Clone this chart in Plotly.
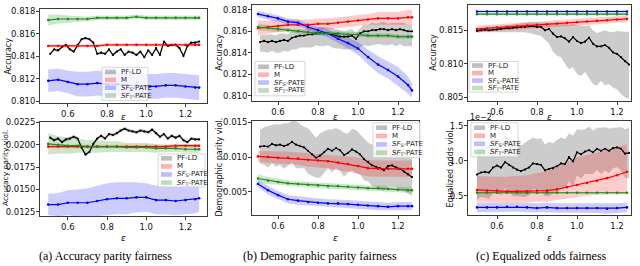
import plotly.graph_objects as go

W, H = 640, 266

# ---------------- data ----------------
EPS_FINE_AB = [0.51, 0.53, 0.55, 0.57, 0.59, 0.61, 0.63, 0.65, 0.67, 0.69, 0.71, 0.73, 0.75,
               0.77, 0.79, 0.81, 0.83, 0.85, 0.87, 0.89, 0.91, 0.93, 0.95, 0.97, 0.99, 1.01,
               1.03, 1.05, 1.07, 1.09, 1.11, 1.13, 1.15, 1.17, 1.19, 1.21, 1.23, 1.25, 1.27]
EPS_FINE_C = [0.50, 0.52, 0.54, 0.56, 0.58, 0.60, 0.62, 0.64, 0.66, 0.68, 0.70, 0.72, 0.74,
              0.76, 0.78, 0.80, 0.82, 0.84, 0.86, 0.88, 0.90, 0.92, 0.94, 0.96, 0.98, 1.00,
              1.02, 1.04, 1.06, 1.08, 1.10, 1.12, 1.14, 1.16, 1.18, 1.20, 1.22, 1.24, 1.26]
EPS_COARSE_AB = [0.50, 0.55, 0.60, 0.65, 0.70, 0.75, 0.80, 0.85, 0.90, 0.95, 1.00, 1.05,
                 1.10, 1.15, 1.20, 1.25, 1.27]
EPS_COARSE_C = [0.50, 0.55, 0.60, 0.65, 0.70, 0.75, 0.80, 0.85, 0.90, 0.95, 1.00, 1.05,
                1.10, 1.15, 1.20, 1.25]

# (a) accuracy parity -- accuracy
a_acc_pfld = [0.8142, 0.8146, 0.8145, 0.8148, 0.8150, 0.8146, 0.8144, 0.8150, 0.8155, 0.8156,
              0.8155, 0.8152, 0.8142, 0.8143, 0.8142, 0.8146, 0.8141, 0.8144, 0.8146, 0.8141,
              0.8144, 0.8143, 0.8141, 0.8144, 0.8139, 0.8145, 0.8141, 0.8147, 0.8141, 0.8153,
              0.8149, 0.8150, 0.8150, 0.8147, 0.8140, 0.8149, 0.8152, 0.8152, 0.8153]
a_acc_pfld_err = [0.00012, 0.00012, 0.00011, 0.00012, 0.00013, 0.00012, 0.00012, 0.00013, 0.00014,
                  0.00013, 0.00012, 0.00013, 0.00012, 0.00012, 0.00011, 0.00012, 0.00012, 0.00013,
                  0.00012, 0.00012, 0.00011, 0.00012, 0.00012, 0.00013, 0.00012, 0.00012, 0.00012,
                  0.00013, 0.00012, 0.00014, 0.00012, 0.00012, 0.00013, 0.00012, 0.00013, 0.00012,
                  0.00012, 0.00012, 0.00012]
a_acc_m = [0.8149, 0.8149, 0.8149, 0.8149, 0.8149, 0.8149, 0.8150, 0.8150, 0.8150, 0.8150,
           0.8150, 0.8150, 0.8150, 0.8150, 0.8150, 0.8150, 0.8150]
a_acc_m_err = [0.00012, 0.00012, 0.00012, 0.00012, 0.00012, 0.00012, 0.00012, 0.00012, 0.00012,
               0.00012, 0.00012, 0.00012, 0.00012, 0.00012, 0.00012, 0.00012, 0.00012]
a_acc_sfs = [0.8118, 0.8119, 0.8117, 0.8115, 0.8115, 0.8116, 0.8115, 0.8115, 0.8114, 0.8114,
             0.8113, 0.8113, 0.8114, 0.8114, 0.8113, 0.8112, 0.8112]
a_acc_sfs_err = [0.0010, 0.0010, 0.0010, 0.0011, 0.0011, 0.0011, 0.0011, 0.0011, 0.0011, 0.0011,
                 0.0011, 0.0011, 0.0011, 0.0011, 0.0011, 0.0011, 0.0011]
a_acc_sft = [0.8172, 0.8173, 0.8173, 0.8173, 0.8173, 0.8174, 0.8174, 0.8174, 0.8174, 0.8175,
             0.8174, 0.8174, 0.8174, 0.8174, 0.8174, 0.8174, 0.8174]
a_acc_sft_err = [0.0005, 0.0004, 0.0003, 0.00025, 0.0002, 0.0002, 0.0002, 0.0002, 0.0002, 0.0002,
                 0.0002, 0.0002, 0.0002, 0.0002, 0.0002, 0.0002, 0.0002]

# (a) accuracy parity -- violation
a_vio_pfld = [0.0208, 0.0205, 0.0207, 0.0203, 0.0206, 0.0207, 0.0209, 0.0207, 0.0197, 0.0189,
              0.0192, 0.0201, 0.0207, 0.0210, 0.0207, 0.0212, 0.0211, 0.0213, 0.0216, 0.0218,
              0.0216, 0.0215, 0.0214, 0.0216, 0.0215, 0.0214, 0.0217, 0.0213, 0.0209, 0.0212,
              0.0207, 0.0210, 0.0208, 0.0210, 0.0205, 0.0203, 0.0207, 0.0206, 0.0206]
a_vio_pfld_err = [0.0002, 0.0002, 0.0002, 0.0002, 0.0002, 0.0002, 0.0002, 0.0002, 0.0002, 0.0002,
                  0.0002, 0.0002, 0.0002, 0.0002, 0.0002, 0.0002, 0.0002, 0.0002, 0.0002, 0.0002,
                  0.0002, 0.0002, 0.0002, 0.0002, 0.0002, 0.0002, 0.0002, 0.0002, 0.0002, 0.0002,
                  0.0002, 0.0002, 0.0002, 0.0002, 0.0002, 0.0002, 0.0002, 0.0002, 0.0002]
a_vio_m = [0.0198, 0.0198, 0.0198, 0.0198, 0.0198, 0.0198, 0.0198, 0.0198, 0.0198, 0.0198,
           0.0198, 0.0198, 0.0198, 0.0199, 0.0199, 0.0199, 0.0199]
a_vio_m_err = [0.0002, 0.0002, 0.0002, 0.0002, 0.0002, 0.0002, 0.0002, 0.0002, 0.0002, 0.0002,
               0.0002, 0.0002, 0.0002, 0.0002, 0.0002, 0.0002, 0.0002]
a_vio_sfs = [0.0133, 0.0133, 0.0135, 0.0135, 0.0135, 0.0137, 0.0139, 0.0140, 0.0140, 0.0141,
             0.0141, 0.0138, 0.0138, 0.0137, 0.0138, 0.0139, 0.0140]
a_vio_sfs_err = [0.0012, 0.0013, 0.0014, 0.0015, 0.0016, 0.0017, 0.0018, 0.0018, 0.0018, 0.0017,
                 0.0016, 0.0016, 0.0016, 0.0016, 0.0016, 0.0016, 0.0015]
a_vio_sft = [0.0201, 0.0200, 0.0199, 0.0199, 0.0198, 0.0198, 0.0198, 0.0198, 0.0197, 0.0197,
             0.0197, 0.0196, 0.0196, 0.0196, 0.0195, 0.0195, 0.0195]
a_vio_sft_err = [0.0012, 0.0010, 0.0009, 0.0008, 0.0007, 0.0007, 0.0006, 0.0006, 0.0005, 0.0005,
                 0.0005, 0.0005, 0.0004, 0.0004, 0.0004, 0.0004, 0.0004]

# (b) demographic parity -- accuracy
b_acc_pfld = [0.8150, 0.8151, 0.8150, 0.8151, 0.8150, 0.8151, 0.8152, 0.8151, 0.8154, 0.8155,
              0.8156, 0.8156, 0.8157, 0.8157, 0.8158, 0.8158, 0.8158, 0.8158, 0.8157, 0.8156,
              0.8155, 0.8155, 0.8155, 0.8156, 0.8153, 0.8158, 0.8160, 0.8160, 0.8161, 0.8161,
              0.8162, 0.8162, 0.8161, 0.8162, 0.8161, 0.8162, 0.8161, 0.8160, 0.8160]
b_acc_pfld_err_hi = [0.0006, 0.0006, 0.0007, 0.0006, 0.0006, 0.0007, 0.0006, 0.0006, 0.0007, 0.0006,
                     0.0006, 0.0005, 0.0006, 0.0006, 0.0005, 0.0006, 0.0006, 0.0005, 0.0006, 0.0006,
                     0.0006, 0.0005, 0.0006, 0.0006, 0.0006, 0.0005, 0.0006, 0.0006, 0.0007, 0.0006,
                     0.0006, 0.0007, 0.0006, 0.0006, 0.0007, 0.0006, 0.0007, 0.0006, 0.0006]
b_acc_pfld_err_lo = [0.0009, 0.0010, 0.0010, 0.0009, 0.0010, 0.0011, 0.0010, 0.0010, 0.0011, 0.0012,
                     0.0011, 0.0011, 0.0012, 0.0012, 0.0011, 0.0012, 0.0012, 0.0011, 0.0012, 0.0012,
                     0.0011, 0.0012, 0.0012, 0.0012, 0.0011, 0.0013, 0.0013, 0.0014, 0.0014, 0.0013,
                     0.0014, 0.0015, 0.0014, 0.0014, 0.0015, 0.0014, 0.0015, 0.0014, 0.0014]
b_acc_m = [0.8163, 0.8164, 0.8165, 0.8166, 0.8166, 0.8166, 0.8167, 0.8167, 0.8168, 0.8169,
           0.8170, 0.8171, 0.8172, 0.8172, 0.8172, 0.8173, 0.8173]
b_acc_m_err = [0.0007, 0.0006, 0.0006, 0.0005, 0.0005, 0.0005, 0.0005, 0.0005, 0.0005, 0.0005,
               0.0005, 0.0005, 0.0006, 0.0006, 0.0006, 0.0007, 0.0007]
b_acc_sfs = [0.8176, 0.8174, 0.8172, 0.8169, 0.8168, 0.8164, 0.8161, 0.8158, 0.8153, 0.8149,
             0.8144, 0.8136, 0.8129, 0.8124, 0.8118, 0.8110, 0.8105]
b_acc_sfs_err = [0.0003, 0.0003, 0.0003, 0.0003, 0.0003, 0.0003, 0.0003, 0.0004, 0.0004, 0.0005,
                 0.0006, 0.0007, 0.0008, 0.0008, 0.0009, 0.0008, 0.0007]
b_acc_sft = [0.8164, 0.8163, 0.8162, 0.8161, 0.8160, 0.8159, 0.8158, 0.8158, 0.8158, 0.8157,
             0.8157, 0.8156, 0.8156, 0.8156, 0.8155, 0.8155, 0.8155]
b_acc_sft_err = [0.0003, 0.0003, 0.0003, 0.0002, 0.0002, 0.0002, 0.0002, 0.0002, 0.0002, 0.0002,
                 0.0002, 0.0002, 0.0002, 0.0002, 0.0002, 0.0002, 0.0002]

# (b) demographic parity -- violation
b_vio_pfld = [0.0115, 0.0116, 0.0115, 0.0119, 0.0117, 0.0118, 0.0116, 0.0118, 0.0122, 0.0118,
              0.0116, 0.0114, 0.0109, 0.0104, 0.0099, 0.0102, 0.0107, 0.0112, 0.0109, 0.0113,
              0.0110, 0.0103, 0.0106, 0.0111, 0.0108, 0.0104, 0.0097, 0.0093, 0.0088, 0.0086,
              0.0084, 0.0081, 0.0087, 0.0088, 0.0085, 0.0083, 0.0079, 0.0075, 0.0071]
b_vio_pfld_err = [0.0024, 0.0027, 0.0030, 0.0028, 0.0031, 0.0029, 0.0033, 0.0031, 0.0030, 0.0034,
                  0.0032, 0.0030, 0.0033, 0.0031, 0.0029, 0.0032, 0.0030, 0.0028, 0.0031, 0.0029,
                  0.0030, 0.0032, 0.0028, 0.0030, 0.0031, 0.0029, 0.0031, 0.0028, 0.0030, 0.0029,
                  0.0031, 0.0030, 0.0029, 0.0031, 0.0028, 0.0030, 0.0029, 0.0028, 0.0027]
b_vio_m = [0.0101, 0.0100, 0.0099, 0.0099, 0.0098, 0.0096, 0.0095, 0.0094, 0.0092, 0.0090,
           0.0087, 0.0084, 0.0083, 0.0083, 0.0083, 0.0083, 0.0083]
b_vio_m_err = [0.0008, 0.0008, 0.0009, 0.0009, 0.0009, 0.0010, 0.0010, 0.0010, 0.0011, 0.0011,
               0.0012, 0.0012, 0.0012, 0.0012, 0.0012, 0.0012, 0.0012]
b_vio_sfs = [0.0061, 0.0052, 0.0045, 0.0039, 0.0037, 0.0035, 0.0034, 0.0033, 0.0033, 0.0032,
             0.0031, 0.0030, 0.0029, 0.0028, 0.0029, 0.0029, 0.0029]
b_vio_sfs_err = [0.0005, 0.0006, 0.0006, 0.0006, 0.0006, 0.0006, 0.0006, 0.0006, 0.0006, 0.0006,
                 0.0006, 0.0006, 0.0006, 0.0006, 0.0006, 0.0006, 0.0006]
b_vio_sft = [0.0069, 0.0066, 0.0064, 0.0062, 0.0061, 0.0060, 0.0059, 0.0058, 0.0058, 0.0057,
             0.0056, 0.0055, 0.0055, 0.0054, 0.0053, 0.0052, 0.0052]
b_vio_sft_err = [0.0006, 0.0005, 0.0005, 0.0004, 0.0004, 0.0004, 0.0004, 0.0004, 0.0004, 0.0004,
                 0.0004, 0.0004, 0.0004, 0.0004, 0.0004, 0.0004, 0.0004]

# (c) equalized odds -- accuracy
c_acc_pfld = [0.8149, 0.8150, 0.8151, 0.8150, 0.8151, 0.8151, 0.8152, 0.8153, 0.8153, 0.8154,
              0.8154, 0.8155, 0.8155, 0.8156, 0.8156, 0.8155, 0.8155, 0.8150, 0.8152, 0.8145,
              0.8140, 0.8141, 0.8138, 0.8133, 0.8140, 0.8134, 0.8131, 0.8133, 0.8139, 0.8130,
              0.8126, 0.8126, 0.8128, 0.8124, 0.8117, 0.8115, 0.8110, 0.8104, 0.8099]
c_acc_pfld_hi = [0.8152, 0.8153, 0.8154, 0.8154, 0.8155, 0.8156, 0.8157, 0.8158, 0.8158, 0.8159,
                 0.8160, 0.8160, 0.8161, 0.8162, 0.8162, 0.8162, 0.8162, 0.8161, 0.8162, 0.8161,
                 0.8160, 0.8160, 0.8160, 0.8158, 0.8160, 0.8158, 0.8157, 0.8156, 0.8158, 0.8150,
                 0.8146, 0.8148, 0.8150, 0.8148, 0.8147, 0.8149, 0.8148, 0.8148, 0.8148]
c_acc_pfld_lo = [0.8146, 0.8147, 0.8148, 0.8147, 0.8147, 0.8147, 0.8147, 0.8147, 0.8147, 0.8148,
                 0.8147, 0.8147, 0.8147, 0.8146, 0.8145, 0.8143, 0.8142, 0.8136, 0.8130, 0.8118,
                 0.8112, 0.8110, 0.8100, 0.8092, 0.8095, 0.8085, 0.8082, 0.8088, 0.8080, 0.8070,
                 0.8068, 0.8075, 0.8068, 0.8070, 0.8065, 0.8062, 0.8055, 0.8050, 0.8048]
c_acc_m = [0.8152, 0.8153, 0.8154, 0.8155, 0.8156, 0.8157, 0.8158, 0.8159, 0.8160, 0.8161,
           0.8162, 0.8163, 0.8164, 0.8165, 0.8166, 0.8167]
c_acc_m_err = [0.0005, 0.0005, 0.0005, 0.0005, 0.0005, 0.0005, 0.0005, 0.0005, 0.0005, 0.0005,
               0.0005, 0.0005, 0.0005, 0.0005, 0.0005, 0.0005]
c_acc_sfs = [0.8178, 0.8178, 0.8178, 0.8178, 0.8178, 0.8178, 0.8178, 0.8178, 0.8178, 0.8178,
             0.8178, 0.8178, 0.8178, 0.8178, 0.8178, 0.8178]
c_acc_sfs_err = [0.0002, 0.0002, 0.0002, 0.0002, 0.0002, 0.0002, 0.0002, 0.0002, 0.0002, 0.0002,
                 0.0002, 0.0002, 0.0002, 0.0002, 0.0002, 0.0002]
c_acc_sft = [0.8174, 0.8174, 0.8174, 0.8174, 0.8174, 0.8174, 0.8174, 0.8174, 0.8174, 0.8174,
             0.8174, 0.8174, 0.8174, 0.8174, 0.8174, 0.8174]
c_acc_sft_err = [0.00015, 0.00015, 0.00015, 0.00015, 0.00015, 0.00015, 0.00015, 0.00015,
                 0.00015, 0.00015, 0.00015, 0.00015, 0.00015, 0.00015, 0.00015, 0.00015]

# (c) equalized odds -- violation
c_vio_pfld = [0.0080, 0.0083, 0.0084, 0.0083, 0.0090, 0.0093, 0.0090, 0.0098, 0.0094, 0.0090,
              0.0087, 0.0085, 0.0087, 0.0090, 0.0096, 0.0095, 0.0094, 0.0086, 0.0088, 0.0089,
              0.0092, 0.0096, 0.0095, 0.0105, 0.0099, 0.0112, 0.0109, 0.0113, 0.0115, 0.0112,
              0.0117, 0.0114, 0.0117, 0.0114, 0.0118, 0.0119, 0.0117, 0.0110, 0.0111]
c_vio_pfld_err = [0.0036, 0.0035, 0.0037, 0.0038, 0.0036, 0.0038, 0.0040, 0.0037, 0.0039, 0.0041,
                  0.0038, 0.0036, 0.0039, 0.0040, 0.0037, 0.0036, 0.0038, 0.0037, 0.0039, 0.0036,
                  0.0038, 0.0037, 0.0036, 0.0034, 0.0037, 0.0033, 0.0035, 0.0032, 0.0034, 0.0031,
                  0.0030, 0.0033, 0.0031, 0.0032, 0.0029, 0.0028, 0.0031, 0.0035, 0.0036]
c_vio_m = [0.0058, 0.0057, 0.0057, 0.0056, 0.0056, 0.0056, 0.0057, 0.0057, 0.0059, 0.0062,
           0.0065, 0.0068, 0.0071, 0.0075, 0.0079, 0.0084]
c_vio_m_err_lo = [0.0017, 0.0017, 0.0017, 0.0016, 0.0016, 0.0016, 0.0016, 0.0016, 0.0016, 0.0017,
                  0.0017, 0.0018, 0.0020, 0.0023, 0.0027, 0.0032]
c_vio_m_err_hi = [0.0020, 0.0020, 0.0020, 0.0021, 0.0022, 0.0023, 0.0025, 0.0028, 0.0032, 0.0036,
                  0.0040, 0.0040, 0.0040, 0.0040, 0.0040, 0.0040]
c_vio_sfs = [0.0033, 0.0033, 0.0033, 0.0034, 0.0034, 0.0033, 0.0032, 0.0033, 0.0032, 0.0032,
             0.0032, 0.0032, 0.0032, 0.0031, 0.0032, 0.0033]
c_vio_sfs_err = [0.0007, 0.0007, 0.0007, 0.0007, 0.0007, 0.0007, 0.0007, 0.0007, 0.0007, 0.0007,
                 0.0007, 0.0007, 0.0007, 0.0007, 0.0007, 0.0007]
c_vio_sft = [0.0054, 0.0054, 0.0054, 0.0054, 0.0054, 0.0054, 0.0054, 0.0054, 0.0054, 0.0054,
             0.0054, 0.0054, 0.0054, 0.0054, 0.0054, 0.0054]
c_vio_sft_err = [0.0001, 0.0001, 0.0001, 0.0001, 0.0001, 0.0001, 0.0001, 0.0001, 0.0001, 0.0001,
                 0.0001, 0.0001, 0.0001, 0.0001, 0.0001, 0.0001]

X_TICKS = [0.6, 0.8, 1.0, 1.2]
LEGEND_LABELS = ["PF-LD", "M", "<i>SF</i><sub>S</sub>-PATE", "<i>SF</i><sub>T</sub>-PATE"]
CAPTIONS = ["(a) Accuracy parity fairness", "(b) Demographic parity fairness",
            "(c) Equalized odds fairness"]

# ---------------- style ----------------
LINE_COLORS = ["#000000", "#ff0000", "#0000ff", "#1a8c1a"]
BAND_COLORS = ["rgba(0,0,0,0.2)", "rgba(255,0,0,0.2)", "rgba(0,0,255,0.2)", "rgba(0,128,0,0.2)"]
LEG_COLORS = ["rgba(0,0,0,0.25)", "rgba(255,0,0,0.3)", "rgba(0,0,255,0.25)", "rgba(0,128,0,0.25)"]


def px(x):
    return x / W


def py(y):
    return 1 - y / H


fig = go.Figure()


def ax_names(k):
    return ("x", "y") if k == 1 else (f"x{k}", f"y{k}")


def add_band(k, x, lo, hi, color):
    xa, ya = ax_names(k)
    n = min(len(x), len(lo), len(hi))
    xs = list(x[:n]) + list(x[:n])[::-1]
    ys = list(hi[:n]) + list(lo[:n])[::-1]
    fig.add_trace(go.Scatter(x=xs, y=ys, mode="lines", fill="toself", fillcolor=color,
                             line=dict(width=0), hoverinfo="skip", showlegend=False,
                             xaxis=xa, yaxis=ya))


def add_line(k, x, y, color, msize=2.6):
    xa, ya = ax_names(k)
    n = min(len(x), len(y))
    fig.add_trace(go.Scatter(x=x[:n], y=y[:n], mode="lines+markers",
                             line=dict(color=color, width=1.2),
                             marker=dict(size=msize, color=color), showlegend=False,
                             xaxis=xa, yaxis=ya))


def sym(y, e):
    return [a - b for a, b in zip(y, e)], [a + b for a, b in zip(y, e)]


def asym(y, elo, ehi):
    return [a - b for a, b in zip(y, elo)], [a + b for a, b in zip(y, ehi)]


# series per panel: (x, y, lo, hi)
PANEL_SERIES = {
    1: [(EPS_FINE_AB, a_acc_pfld, *sym(a_acc_pfld, a_acc_pfld_err)),
        (EPS_COARSE_AB, a_acc_m, *sym(a_acc_m, a_acc_m_err)),
        (EPS_COARSE_AB, a_acc_sfs, *sym(a_acc_sfs, a_acc_sfs_err)),
        (EPS_COARSE_AB, a_acc_sft, *sym(a_acc_sft, a_acc_sft_err))],
    2: [(EPS_FINE_AB, b_acc_pfld, *asym(b_acc_pfld, b_acc_pfld_err_lo, b_acc_pfld_err_hi)),
        (EPS_COARSE_AB, b_acc_m, *sym(b_acc_m, b_acc_m_err)),
        (EPS_COARSE_AB, b_acc_sfs, *sym(b_acc_sfs, b_acc_sfs_err)),
        (EPS_COARSE_AB, b_acc_sft, *sym(b_acc_sft, b_acc_sft_err))],
    3: [(EPS_FINE_C, c_acc_pfld, c_acc_pfld_lo, c_acc_pfld_hi),
        (EPS_COARSE_C, c_acc_m, *sym(c_acc_m, c_acc_m_err)),
        (EPS_COARSE_C, c_acc_sfs, *sym(c_acc_sfs, c_acc_sfs_err)),
        (EPS_COARSE_C, c_acc_sft, *sym(c_acc_sft, c_acc_sft_err))],
    4: [(EPS_FINE_AB, a_vio_pfld, *sym(a_vio_pfld, a_vio_pfld_err)),
        (EPS_COARSE_AB, a_vio_m, *sym(a_vio_m, a_vio_m_err)),
        (EPS_COARSE_AB, a_vio_sfs, *sym(a_vio_sfs, a_vio_sfs_err)),
        (EPS_COARSE_AB, a_vio_sft, *sym(a_vio_sft, a_vio_sft_err))],
    5: [(EPS_FINE_AB, b_vio_pfld, *sym(b_vio_pfld, b_vio_pfld_err)),
        (EPS_COARSE_AB, b_vio_m, *sym(b_vio_m, b_vio_m_err)),
        (EPS_COARSE_AB, b_vio_sfs, *sym(b_vio_sfs, b_vio_sfs_err)),
        (EPS_COARSE_AB, b_vio_sft, *sym(b_vio_sft, b_vio_sft_err))],
    6: [(EPS_FINE_C, c_vio_pfld, *sym(c_vio_pfld, c_vio_pfld_err)),
        (EPS_COARSE_C, c_vio_m, *asym(c_vio_m, c_vio_m_err_lo, c_vio_m_err_hi)),
        (EPS_COARSE_C, c_vio_sfs, *sym(c_vio_sfs, c_vio_sfs_err)),
        (EPS_COARSE_C, c_vio_sft, *sym(c_vio_sft, c_vio_sft_err))],
}

for k, series in PANEL_SERIES.items():
    for i, (x, y, lo, hi) in enumerate(series):
        add_band(k, x, lo, hi, BAND_COLORS[i])
    for i, (x, y, lo, hi) in enumerate(series):
        add_line(k, x, y, LINE_COLORS[i], 2.2 if i == 0 else 2.6)

# ---------------- axes ----------------
PANELS = {
    1: dict(xd=(40, 207), yd=(5, 102), xr=(0.458, 1.31), yr=(0.8098, 0.8182),
            yt=[0.810, 0.812, 0.814, 0.816, 0.818], fmt=".3f"),
    2: dict(xd=(252, 419), yd=(1, 100), xr=(0.47, 1.305), yr=(0.80948, 0.81845),
            yt=[0.810, 0.812, 0.814, 0.816, 0.818], fmt=".3f"),
    3: dict(xd=(468, 631), yd=(1, 100), xr=(0.455, 1.27), yr=(0.80442, 0.81877),
            yt=[0.805, 0.810, 0.815], fmt=".3f"),
    4: dict(xd=(40, 207), yd=(121, 218), xr=(0.458, 1.31), yr=(0.011987, 0.022576),
            yt=[0.0125, 0.0150, 0.0175, 0.0200, 0.0225], fmt=".4f"),
    5: dict(xd=(252, 419), yd=(120, 217), xr=(0.47, 1.305), yr=(0.00158, 0.01524),
            yt=[0.005, 0.010, 0.015], fmt=".3f"),
    6: dict(xd=(468, 631), yd=(120, 217), xr=(0.455, 1.27), yr=(0.00217, 0.0157),
            yt=[0.005, 0.010, 0.015], fmt=None, ytext=["0.5", "1.0", "1.5"]),
}

TICKFONT = dict(family="DejaVu Sans", size=8.5, color="#111111")
layout = {}
for k, p in PANELS.items():
    sfx = "" if k == 1 else str(k)
    common = dict(showline=True, mirror=True, linecolor="#3a3a3a", linewidth=0.8,
                  ticks="outside", ticklen=3, tickwidth=0.8, tickcolor="#3a3a3a",
                  showgrid=False, zeroline=False, tickfont=TICKFONT)
    xa = dict(common, domain=[px(p["xd"][0]), px(p["xd"][1])], range=list(p["xr"]),
              tickvals=X_TICKS, tickformat=".1f", anchor="y" + sfx)
    ya = dict(common, domain=[py(p["yd"][1]), py(p["yd"][0])], range=list(p["yr"]),
              tickvals=p["yt"], anchor="x" + sfx, ticklabelstandoff=-1)
    if p.get("fmt"):
        ya["tickformat"] = p["fmt"]
    else:
        ya["ticktext"] = p["ytext"]
    layout["xaxis" + sfx] = xa
    layout["yaxis" + sfx] = ya

fig.update_layout(**layout)

# ---------------- text ----------------
YTITLES = [("Accuracy", 9, 54, 8), ("Accuracy", 220, 50, 8), ("Accuracy", 434, 50, 8),
           ("Accuracy parity viol.", 5.5, 168, 7.5), ("Demographic parity viol.", 220, 168, 8),
           ("Equalized odds viol.", 451, 168, 8)]
for txt, x, y, fs in YTITLES:
    fig.add_annotation(x=px(x), y=py(y), xref="paper", yref="paper", text=txt,
                       textangle=-90, showarrow=False, xanchor="center", yanchor="middle",
                       font=dict(family="DejaVu Sans", size=fs, color="#111111"))

for cx in (123, 335, 549):
    for cy in (116, 240):
        fig.add_annotation(x=px(cx), y=py(cy), xref="paper", yref="paper", text="<i>ε</i>",
                           showarrow=False, xanchor="center", yanchor="middle",
                           font=dict(family="DejaVu Sans", size=9, color="#111111"))

fig.add_annotation(x=px(468), y=py(117), xref="paper", yref="paper", text="1e−2",
                   showarrow=False, xanchor="left", yanchor="middle",
                   font=dict(family="DejaVu Sans", size=8, color="#111111"))

for txt, cx in zip(CAPTIONS, (105, 320, 541)):
    fig.add_annotation(x=px(cx), y=py(259), xref="paper", yref="paper", text=txt,
                       showarrow=False, xanchor="center", yanchor="middle",
                       font=dict(family="Liberation Serif", size=12, color="#000000"))

# ---------------- legends (drawn manually) ----------------
LEGENDS = [  # left, top, width, pad, row
    (102, 65, 46, 4.8, 8.1),
    (255, 59, 50, 5.5, 8.1),
    (469, 59, 49, 4.2, 7.7),
    (158, 154, 47, 4.5, 8.3),
    (373, 122, 47, 5.0, 8.6),
    (471, 122, 47, 5.0, 8.3),
]
for left, top, w, pad, row in LEGENDS:
    h = 2 * pad + 3 * row
    fig.add_shape(type="rect", xref="paper", yref="paper", x0=px(left), x1=px(left + w),
                  y0=py(top + h), y1=py(top), line=dict(color="#cccccc", width=0.8),
                  fillcolor="rgba(255,255,255,0.8)", layer="above")
    for i, lab in enumerate(LEGEND_LABELS):
        yc = top + pad + row * i
        fig.add_shape(type="rect", xref="paper", yref="paper", x0=px(left + 3),
                      x1=px(left + 14), y0=py(yc + 2.4), y1=py(yc - 2.4),
                      line=dict(width=0), fillcolor=LEG_COLORS[i], layer="above")
        fig.add_annotation(x=px(left + 17), y=py(yc), xref="paper", yref="paper", text=lab,
                           showarrow=False, xanchor="left", yanchor="middle",
                           font=dict(family="DejaVu Sans", size=7, color="#222222"))

fig.update_layout(width=W, height=H, margin=dict(l=0, r=0, t=0, b=0),
                  paper_bgcolor="white", plot_bgcolor="white", showlegend=False)

fig.write_html("out.html", config={"displayModeBar": False},
               post_script="document.body.style.margin='0';document.body.style.overflow='hidden';")
